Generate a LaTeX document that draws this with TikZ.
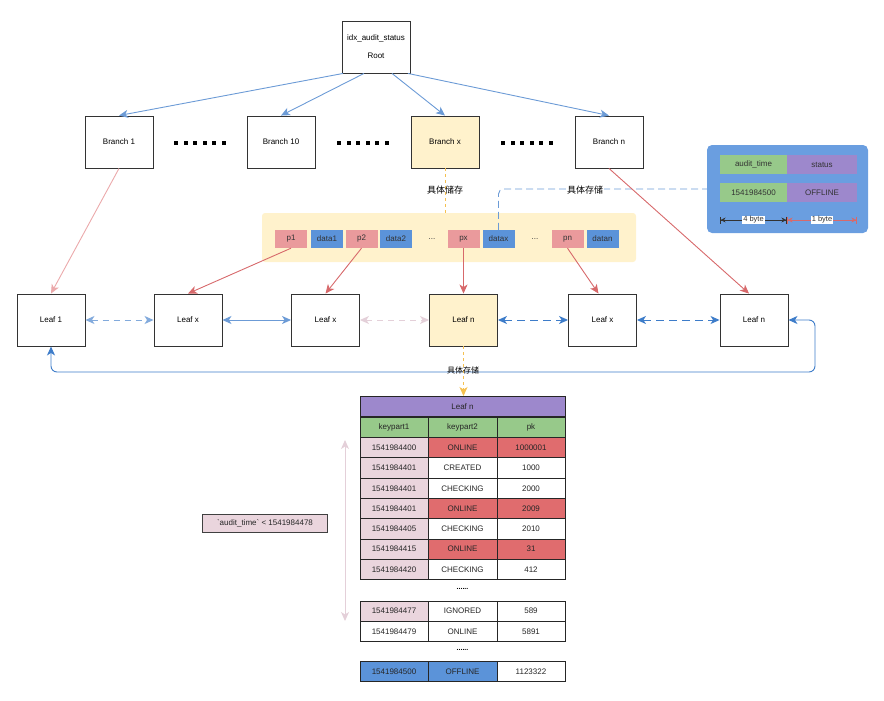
\documentclass[tikz,border=0pt]{standalone}
\usepackage{fontspec}
\setmainfont{Liberation Sans}
\newfontfamily\cjk{Noto Sans CJK SC}
\usetikzlibrary{positioning,calc,arrows.meta}

\definecolor{edgeblue}{HTML}{6C9BD6}
\definecolor{darkblue}{HTML}{3D7CC9}
\definecolor{cellblue}{HTML}{5B93D9}
\definecolor{boxblue}{HTML}{6A9EE0}
\definecolor{edgered}{HTML}{D7696B}
\definecolor{lightred}{HTML}{EBA9AB}
\definecolor{cellred}{HTML}{EA9A9C}
\definecolor{rowred}{HTML}{E06C6E}
\definecolor{paleyellow}{HTML}{FFF2CC}
\definecolor{lineyellow}{HTML}{F5C050}
\definecolor{keygreen}{HTML}{97C98A}
\definecolor{keypurple}{HTML}{9D88CC}
\definecolor{keypink}{HTML}{EAD5DD}
\definecolor{palepink}{HTML}{E4D0D9}

\tikzset{
	box/.style={draw=black!80, line width=0.9pt, minimum width=68pt, minimum height=52pt, inner sep=0pt, font=\fontsize{8}{10}\selectfont},
	cell/.style={minimum width=32pt, minimum height=18pt, inner sep=0pt, text=black!80, font=\fontsize{8}{10}\selectfont},
	tcell/.style={draw=black!85, line width=0.7pt, minimum height=20.3pt, inner sep=0pt, text=black!85, font=\fontsize{8}{10}\selectfont},
	fcell/.style={minimum width=67pt, minimum height=19pt, inner sep=0pt, text=black!80, font=\fontsize{8}{10}\selectfont},
	tip/.style={-{Stealth[length=9pt,width=8pt,inset=2.5pt]}},
	tips/.style={{Stealth[length=9pt,width=8pt,inset=2.5pt]}-{Stealth[length=9pt,width=8pt,inset=2.5pt]}},
	cjklabel/.style={inner sep=1pt, font=\cjk\fontsize{9}{10}\selectfont}
}

\begin{document}
\begin{tikzpicture}[x=1pt, y=-1pt]
	\useasboundingbox (0,0) rectangle (884,701);
	\node[box, align=center] (root) at (376,47) {idx\_audit\_status\\[8pt]Root};
	\node[box] (b1) at (119,142) {Branch 1};
	\node[box] (b10) at (281,142) {Branch 10};
	\node[box, fill=paleyellow] (bx) at (445,142) {Branch x};
	\node[box] (bn) at (609,142) {Branch n};
	\foreach \cx in {200,363,527}
		\foreach \k in {-2.5,-1.5,...,2.5}
			\fill (\cx+\k*9.5-1.9,141) rectangle ++(3.8,3.8);
	\draw[edgeblue, line width=0.9pt, tip] ([xshift=-33pt]root.south) -- (b1.north);
	\draw[edgeblue, line width=0.9pt, tip] ([xshift=-12pt]root.south) -- (b10.north);
	\draw[edgeblue, line width=0.9pt, tip] ([xshift=16pt]root.south) -- (bx.north);
	\draw[edgeblue, line width=0.9pt, tip] ([xshift=32pt]root.south) -- (bn.north);

	\node[fill=paleyellow, rounded corners=3pt, minimum width=374pt, minimum height=49pt] (store) at (449,237.5) {};
	\node[cell, fill=cellred] (p1) at (291,239) {p1};
	\node[cell, fill=cellblue] (data1) at (327,239) {data1};
	\node[cell, fill=cellred] (p2) at (361.5,239) {p2};
	\node[cell, fill=cellblue] (data2) at (396,239) {data2};
	\node[cell] (gap1) at (432,239) {...};
	\node[cell, fill=cellred] (px) at (463.5,239) {px};
	\node[cell, fill=cellblue] (datax) at (498.5,239) {datax};
	\node[cell] (gap2) at (535,239) {...};
	\node[cell, fill=cellred] (pn) at (567.5,239) {pn};
	\node[cell, fill=cellblue] (datan) at (602.5,239) {datan};

	\draw[lineyellow, line width=0.9pt, dashed] (bx.south) -- (bx.south |- store.north);
	\node[cjklabel] (lbl1) at (445,190) {具体储存};

	\node[fill=boxblue, rounded corners=5pt, minimum width=161pt, minimum height=88pt] (fmt) at (787.5,189) {};
	\node[fcell, fill=keygreen] (ft) at (753.5,164.5) {audit\_time};
	\node[fcell, fill=keypurple, minimum width=70pt] (fs) at (822,164.5) {status};
	\node[fcell, fill=keygreen] (vt) at (753.5,192.5) {1541984500};
	\node[fcell, fill=keypurple, minimum width=70pt] (vs) at (822,192.5) {OFFLINE};
	\coordinate (d0) at (720,220);
	\coordinate (d1) at (787,220);
	\coordinate (d2) at (857,220);
	\draw[black!80, line width=0.6pt, {Bar[width=7pt]Stealth[length=5pt,width=5pt]}-{Stealth[length=5pt,width=5pt]Bar[width=7pt]}] (d0) -- node[fill=white, inner sep=1pt, font=\fontsize{7.5}{8}\selectfont] {4 byte} (d1);
	\draw[edgered, line width=0.6pt, {Bar[width=7pt]Stealth[length=5pt,width=5pt]}-{Stealth[length=5pt,width=5pt]Bar[width=7pt]}] (d1) -- node[fill=white, inner sep=1pt, text=black!80, font=\fontsize{7.5}{8}\selectfont] {1 byte} (d2);

	\draw[edgeblue, line width=0.9pt, dash pattern=on 7pt off 4pt, rounded corners=5pt] (datax.north) |- (fmt.west);
	\node[cjklabel, fill=white] (lbl2) at (585,190) {具体存储};

	\node[box] (leaf1) at (51,320) {Leaf 1};
	\node[box] (leafx1) at (188,320) {Leaf x};
	\node[box] (leafx2) at (325.5,320) {Leaf x};
	\node[box, fill=paleyellow] (leafn) at (463.5,320) {Leaf n};
	\node[box] (leafx3) at (602.5,320) {Leaf x};
	\node[box] (leafn2) at (754,320) {Leaf n};

	\draw[lightred, line width=0.9pt, tip] (b1.south) -- (leaf1.north);
	\draw[edgered, line width=0.9pt, tip] (bn.south) -- ([xshift=-5pt]leafn2.north);
	\draw[edgered, line width=0.9pt, tip] (p1.south) -- (leafx1.north);
	\draw[edgered, line width=0.9pt, tip] (p2.south) -- (leafx2.north);
	\draw[edgered, line width=0.9pt, tip] (px.south) -- (px.south |- leafn.north);
	\draw[edgered, line width=0.9pt, tip] (pn.south) -- ([xshift=-4pt]leafx3.north);

	\draw[edgeblue!85, line width=0.9pt, dash pattern=on 6pt off 5pt, tips] (leaf1) -- (leafx1);
	\draw[edgeblue, line width=0.9pt, tips] (leafx1) -- (leafx2);
	\draw[palepink, line width=0.9pt, dash pattern=on 6pt off 5pt, tips] (leafx2) -- (leafn);
	\draw[darkblue, line width=1pt, dash pattern=on 8pt off 5pt, tips] (leafn) -- (leafx3);
	\draw[darkblue, line width=1pt, dash pattern=on 8pt off 5pt, tips] (leafx3) -- (leafn2);
	\coordinate (loopr) at (815,372);
	\draw[darkblue, line width=0.9pt, tips, rounded corners=6pt] (leafn2.east) -| (loopr) -| (leaf1.south);

	\node[tcell, fill=keypurple, minimum width=205pt] (thead) at (462.5,406.5) {Leaf n};
	\node[tcell, fill=keygreen, minimum width=68pt] (hka) at (394,427.5) {keypart1};
	\node[tcell, fill=keygreen, minimum width=69pt] (hkb) at (462.5,427.5) {keypart2};
	\node[tcell, fill=keygreen, minimum width=68pt] (hpk) at (531,427.5) {pk};
	\foreach \ry/\ka/\kb/\pk/\ca/\cb/\cc [count=\i] in {
		447.65/1541984400/ONLINE/1000001/keypink/rowred/rowred,
		467.95/1541984401/CREATED/1000/keypink/white/white,
		488.25/1541984401/CHECKING/2000/keypink/white/white,
		508.55/1541984401/ONLINE/2009/keypink/rowred/rowred,
		528.85/1541984405/CHECKING/2010/keypink/white/white,
		549.15/1541984415/ONLINE/31/keypink/rowred/rowred,
		569.45/1541984420/CHECKING/412/keypink/white/white,
		611/1541984477/IGNORED/589/keypink/white/white,
		631.3/1541984479/ONLINE/5891/white/white/white,
		671.5/1541984500/OFFLINE/1123322/cellblue/cellblue/white}{
		\node[tcell, fill=\ca, minimum width=68pt] (ka\i) at (394,\ry) {\ka};
		\node[tcell, fill=\cb, minimum width=69pt] (kb\i) at (462.5,\ry) {\kb};
		\node[tcell, fill=\cc, minimum width=68pt] (pk\i) at (531,\ry) {\pk};
	}
	\node[font=\bfseries\fontsize{7}{7}\selectfont] (gap3) at (462.5,589) {......};
	\node[font=\bfseries\fontsize{7}{7}\selectfont] (gap4) at (462.5,650) {......};

	\draw[lineyellow, line width=0.9pt, dashed, tip] (leafn.south) -- (leafn.south |- thead.north);
	\node[cjklabel, font=\cjk\fontsize{8}{9}\selectfont] (lbl3) at (463,370) {具体存储};

	\coordinate (scana) at (345,440);
	\coordinate (scanb) at (345,621);
	\draw[palepink, line width=1pt, tips] (scana) -- (scanb);
	\node[draw=black!75, line width=0.7pt, fill=keypink, minimum width=125pt, minimum height=18pt, inner sep=0pt, text=black!85, font=\fontsize{8}{9}\selectfont] (cond) at (265,523) {\textasciigrave audit\_time\textasciigrave{} < 1541984478};
\end{tikzpicture}
\end{document}
